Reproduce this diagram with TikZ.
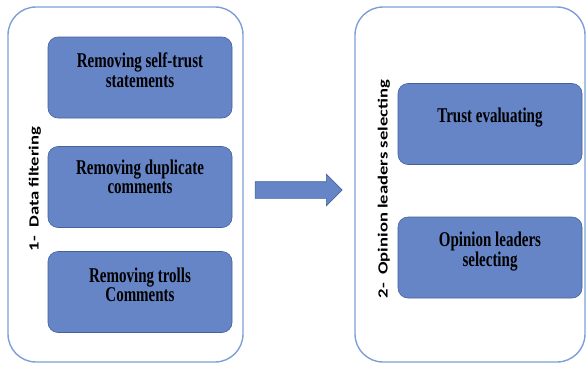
\documentclass[tikz,border=0pt]{standalone}
\usepackage{fontspec}
\setmainfont{Liberation Serif}
\newfontfamily\labelfont{Carlito}
\usepackage{tikz}
\usetikzlibrary{positioning}
\usetikzlibrary{shapes}
\definecolor{stepfill}{RGB}{102,133,199}
\definecolor{stepline}{RGB}{68,98,158}
\definecolor{phaseline}{RGB}{124,160,214}
\tikzstyle{phase}=[draw=phaseline,line width=1.4pt,rounded corners=28pt,fill=white]
\tikzstyle{stepbox}=[draw=stepline,line width=0.6pt,fill=stepfill,rounded corners=10pt,minimum width=184pt,minimum height=81pt]
\tikzstyle{steptext}=[align=center,yscale=1.4,font=\fontsize{15}{14}\selectfont\bfseries]
\tikzstyle{phasetext}=[rotate=90,xscale=1.33,font=\labelfont\fontsize{14}{16}\selectfont\bfseries]

\begin{document}
\begin{tikzpicture}
			\useasboundingbox (0pt,0pt) rectangle (588pt,368pt);
			
			% left phase
			\node [phase, minimum width=235pt, minimum height=355pt] (ph1) at (125.5pt,183.5pt) {};
			\node [phasetext] (ph1t) at (35pt,179pt) {1-\ \ Data filtering};
			
			\node [stepbox] (s1) at (140pt,290.5pt) {};
			\node [steptext] (s1t) at ([yshift=7pt]s1.center) {Removing self-trust\\statements};
			\node [stepbox] (s2) at (140pt,181pt) {};
			\node [steptext] (s2t) at ([yshift=10pt]s2.center) {Removing duplicate\\comments};
			\node [stepbox] (s3) at (140pt,76pt) {};
			\node [steptext] (s3t) at ([yshift=7pt]s3.center) {Removing trolls\\Comments};
			
			% right phase
			\node [phase, minimum width=230pt, minimum height=355pt] (ph2) at (470pt,183.5pt) {};
			\node [phasetext] (ph2t) at (384pt,179pt) {2-\ \ Opinion leaders selecting};
			
			\node [stepbox] (s4) at (490pt,244pt) {};
			\node [steptext] (s4t) at ([yshift=6pt]s4.center) {Trust evaluating};
			\node [stepbox] (s5) at (490pt,110.5pt) {};
			\node [steptext] (s5t) at ([yshift=6pt]s5.center) {Opinion leaders\\selecting};
			
			% flow arrow
			\node [single arrow, draw=stepline, line width=0.6pt, fill=stepfill, inner xsep=0pt, inner ysep=8pt,
			       minimum height=87pt, minimum width=31pt, single arrow head extend=7.5pt,
			       single arrow head indent=0pt, single arrow tip angle=90] (flow) at (294.5pt,178pt) {};
\end{tikzpicture}
\end{document}
